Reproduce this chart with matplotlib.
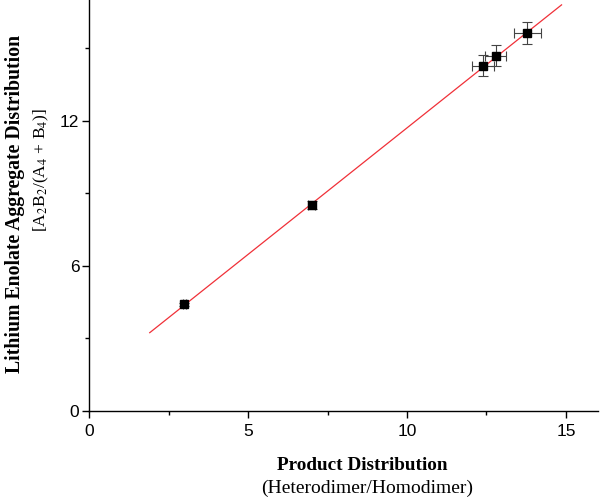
import matplotlib
matplotlib.use("Agg")
import matplotlib.pyplot as plt
import numpy as np
from matplotlib.ticker import MultipleLocator

# Data
product_dist = [3.0, 7.0, 12.39, 12.79, 13.78]
aggregate_dist = [4.41, 8.52, 14.29, 14.69, 15.65]
x_err = [0.05, 0.12, 0.36, 0.33, 0.42]
y_err = [0.07, 0.17, 0.43, 0.43, 0.45]
fit_slope = 1.047
fit_intercept = 1.24
fit_x_range = [1.91, 14.86]
x_ticks = [0, 5, 10, 15]
y_ticks = [0, 6, 12]

fig = plt.figure(figsize=(6.0, 5.01), dpi=100)
ax = fig.add_axes([89/600, 90/501, (16*31.8)/600, 411/501])

fx = np.array(fit_x_range)
ax.plot(fx, fit_slope*fx + fit_intercept, color='#f03038', lw=0.9, zorder=2)
ax.errorbar(product_dist, aggregate_dist, xerr=x_err, yerr=y_err, fmt='none',
            ecolor='#444444', elinewidth=0.8, capsize=3.5, capthick=0.8, zorder=3)
ax.plot(product_dist, aggregate_dist, 's', color='black', markersize=6, zorder=4)

ax.set_xlim(0, 16)
ax.set_ylim(0, 17)
ax.set_xticks(x_ticks)
ax.set_yticks(y_ticks)
ax.xaxis.set_minor_locator(MultipleLocator(2.5))
ax.yaxis.set_minor_locator(MultipleLocator(3))
for s in ['top', 'right']:
    ax.spines[s].set_visible(False)
for s in ['left', 'bottom']:
    ax.spines[s].set_linewidth(1.0)
ax.tick_params(which='major', direction='out', length=5, width=1.0,
               labelsize=12.5, pad=2)
ax.tick_params(axis='x', which='major', pad=4)
ax.tick_params(which='minor', direction='out', length=3, width=1.0)
for lab in ax.get_xticklabels() + ax.get_yticklabels():
    lab.set_fontfamily('Liberation Sans')

serif = 'Liberation Serif'
fig.text(15/600, 1 - 204/501, 'Lithium Enolate Aggregate Distribution',
         rotation=90, ha='center', va='center', fontsize=14.2,
         fontweight='bold', family=serif)
fig.text(41/600, 1 - 170/501, r'[A$_2$B$_2$/(A$_4$ + B$_4$)]',
         rotation=90, ha='center', va='center', fontsize=12.5, family=serif,
         math_fontfamily='stix')
fig.text(362/600, 1 - 465/501, 'Product Distribution', ha='center', va='center',
         fontsize=13.8, fontweight='bold', family=serif)
fig.text(367/600, 1 - 488/501, '(Heterodimer/Homodimer)', ha='center',
         va='center', fontsize=14, family=serif)

fig.savefig('out.png', dpi=100)
